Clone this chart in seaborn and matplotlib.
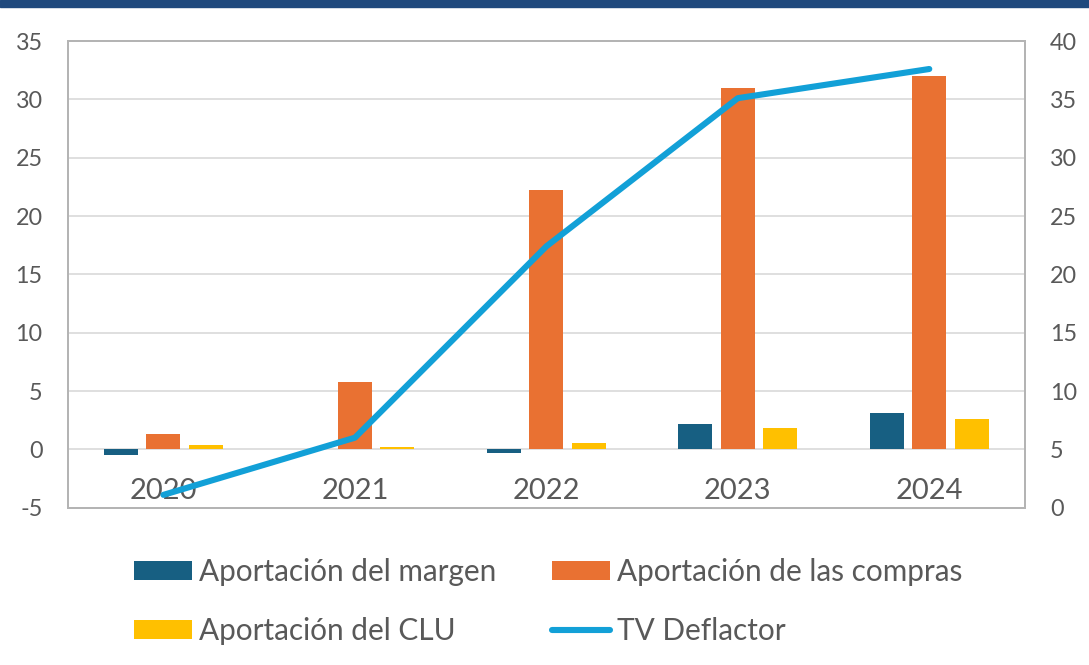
import matplotlib
matplotlib.use('Agg')
import matplotlib.pyplot as plt
import numpy as np
import pandas as pd
import seaborn as sns

# Data
years = ['2020', '2021', '2022', '2023', '2024']
margen = [-0.5, 0.0, -0.3, 2.2, 3.1]
compras = [1.3, 5.8, 22.2, 31.0, 32.0]
clu = [0.35, 0.2, 0.55, 1.85, 2.6]
deflactor = [1.1, 6.0, 22.4, 35.1, 37.6]

series_names = ['Aportación del margen', 'Aportación de las compras', 'Aportación del CLU']
line_name = 'TV Deflactor'
colors = ['#175f82', '#e97132', '#ffc000']
line_color = '#12a0d7'
text_color = '#595959'

df = pd.DataFrame({
    'year': years * 3,
    'serie': [series_names[0]] * 5 + [series_names[1]] * 5 + [series_names[2]] * 5,
    'value': margen + compras + clu,
})

sns.set_theme(style='white')
plt.rcParams['font.family'] = ['Lato', 'DejaVu Sans']
plt.rcParams['axes.unicode_minus'] = False

fig = plt.figure(figsize=(10.89, 6.65), dpi=100)
ax = fig.add_axes([67.7 / 1089, 1 - 507.7 / 665, (1025 - 67.7) / 1089, (507.7 - 41) / 665])

sns.barplot(data=df, x='year', y='value', hue='serie', order=years, hue_order=series_names,
            palette=colors, saturation=1, width=0.664, gap=0.2, linewidth=0, ax=ax)

ax2 = ax.twinx()
sns.lineplot(x=np.arange(len(years)), y=deflactor, color=line_color, linewidth=4.4,
             solid_capstyle='round', ax=ax2, label=line_name)

ax.set_ylim(-5, 35)
ax.set_yticks(range(-5, 36, 5))
ax2.set_ylim(0, 40)
ax2.set_yticks(range(0, 41, 5))
ax.set_xlim(-0.5, len(years) - 0.5)
ax.set_xlabel('')
ax.set_ylabel('')
ax2.set_ylabel('')

ax.yaxis.grid(True, color='#d9d9d9', linewidth=1.2)
ax.set_axisbelow(True)
for a in (ax, ax2):
    for s in a.spines.values():
        s.set_color('#b4b4b4')
        s.set_linewidth(1.3)
ax.tick_params(axis='y', length=0, pad=18, labelsize=16.8, labelcolor=text_color)
ax2.tick_params(axis='y', length=0, pad=18, labelsize=16.8, labelcolor=text_color)
ax.tick_params(axis='x', length=0, pad=-12, labelsize=21, labelcolor=text_color)
for lab in ax.get_xticklabels():
    lab.set_va('center')

# legend below the plot, two columns
h1, l1 = ax.get_legend_handles_labels()
h2, l2 = ax2.get_legend_handles_labels()
ax.get_legend().remove()
ax2.get_legend().remove()
handles = [h1[0], h1[2], h1[1], h2[0]]
labels = [l1[0], l1[2], l1[1], l2[0]]
fig.legend(handles, labels, ncol=2, loc='upper left', bbox_to_anchor=(134 / 1089, 1 - 558 / 665),
           frameon=False, fontsize=21.4, handlelength=1.95, handleheight=0.6, handletextpad=0.25,
           columnspacing=1.85, labelspacing=1.05, borderpad=0, borderaxespad=0,
           labelcolor=text_color)

# dark band at the top
fig.add_artist(plt.Rectangle((0, 1 - 7 / 665), 1, 7 / 665, transform=fig.transFigure,
                             color='#1f497d', zorder=10))

fig.savefig('out.png', dpi=100)
